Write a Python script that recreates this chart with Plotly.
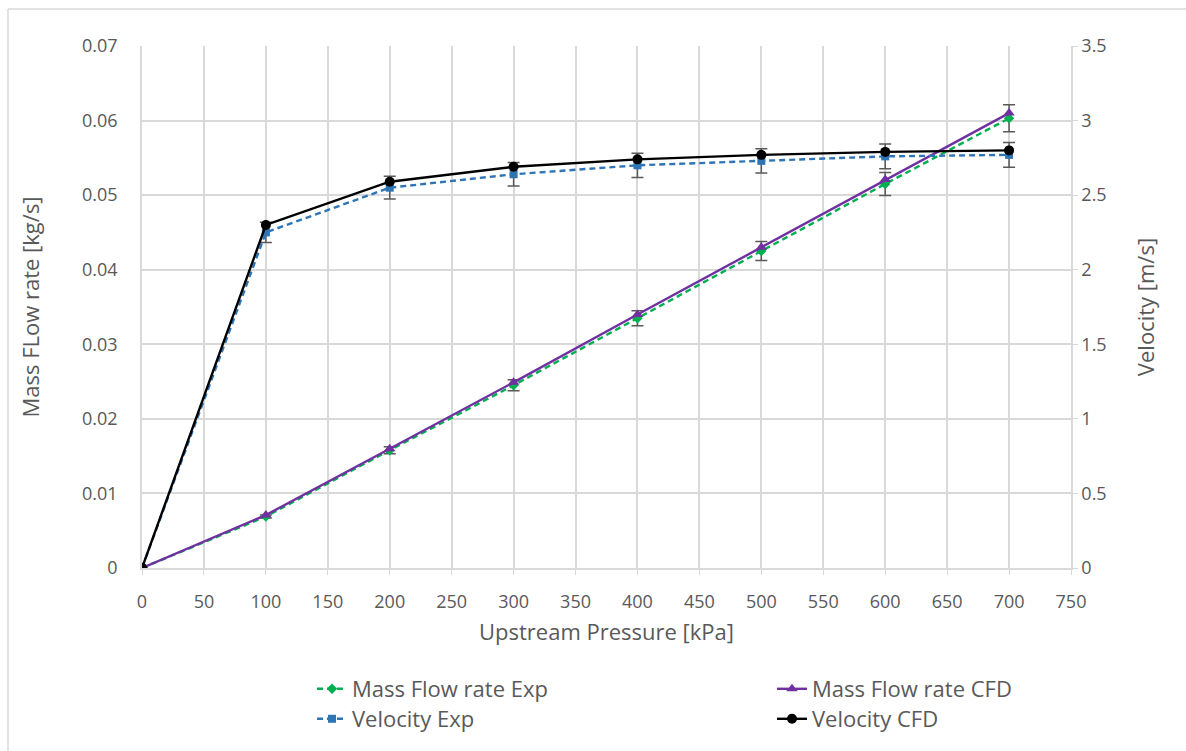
import plotly.graph_objects as go

pressure = [0, 100, 200, 300, 400, 500, 600, 700]
mass_exp = [0, 0.0069, 0.0158, 0.0245, 0.0335, 0.0425, 0.0515, 0.0603]
mass_cfd = [0, 0.0071, 0.0160, 0.0249, 0.0340, 0.0430, 0.0521, 0.0610]
vel_exp = [0, 2.25, 2.55, 2.64, 2.70, 2.73, 2.76, 2.77]
vel_cfd = [0, 2.30, 2.59, 2.69, 2.74, 2.77, 2.79, 2.80]
err_pct = 3

FONT = "Open Sans"
TXT = "#595959"
GRID = "#d9d9d9"

W, H = 1186, 751
ML, MR, MT, MB = 142, 115, 46, 183
PW, PH = W - ML - MR, H - MT - MB


def px_x(x):
    return (x - ML) / PW


def px_y(y):
    return (MT + PH - y) / PH


fig = go.Figure()
eb = dict(type="percent", value=err_pct, color="#595959", thickness=1.5, width=6)
DASH = "6px,4px"

fig.add_trace(go.Scatter(x=pressure, y=mass_exp, name="Mass Flow rate Exp", mode="lines+markers",
                         line=dict(color="#00B050", width=2.4, dash=DASH),
                         marker=dict(symbol="diamond", size=8, color="#00B050"),
                         error_y=eb, yaxis="y", legend="legend"))
fig.add_trace(go.Scatter(x=pressure, y=mass_cfd, name="Mass Flow rate CFD", mode="lines+markers",
                         line=dict(color="#7030A0", width=2.4),
                         marker=dict(symbol="triangle-up", size=10, color="#7030A0"),
                         yaxis="y", legend="legend2"))
fig.add_trace(go.Scatter(x=pressure, y=vel_exp, name="Velocity Exp", mode="lines+markers",
                         line=dict(color="#2E75B6", width=2.4, dash=DASH),
                         marker=dict(symbol="square", size=8, color="#2E75B6"),
                         error_y=eb, yaxis="y2", legend="legend3"))
fig.add_trace(go.Scatter(x=pressure, y=vel_cfd, name="Velocity CFD", mode="lines+markers",
                         line=dict(color="#000000", width=2.4),
                         marker=dict(symbol="circle", size=10, color="#000000"),
                         yaxis="y2", legend="legend4"))

LEG_FONT = dict(size=22, color=TXT, family=FONT)


def leg(xpx, ypx):
    return dict(x=px_x(xpx), xanchor="left", y=px_y(ypx), yanchor="middle",
                font=LEG_FONT, bgcolor="rgba(0,0,0,0)", borderwidth=0)


fig.update_layout(
    width=W, height=H,
    margin=dict(l=ML, r=MR, t=MT, b=MB, autoexpand=False),
    paper_bgcolor="white", plot_bgcolor="white",
    font=dict(family=FONT, color=TXT, size=18),
    xaxis=dict(range=[0, 750], tickmode="linear", tick0=0, dtick=50,
               showgrid=True, gridcolor=GRID, gridwidth=1.5,
               showline=True, linecolor=GRID, linewidth=1.5,
               ticks="outside", ticklen=5, tickcolor=GRID, ticklabelstandoff=12,
               zeroline=False, tickfont=dict(size=18, color=TXT),
               title=dict(text="Upstream Pressure [kPa]", font=dict(size=22, color=TXT), standoff=12)),
    yaxis=dict(range=[0, 0.07], tickmode="linear", tick0=0, dtick=0.01,
               showgrid=True, gridcolor=GRID, gridwidth=1.5,
               showline=True, linecolor=GRID, linewidth=1.5, zeroline=False,
               tickfont=dict(size=18, color=TXT), ticklabelstandoff=19,
               title=dict(text="Mass FLow rate [kg/s]", font=dict(size=22, color=TXT), standoff=36)),
    yaxis2=dict(range=[0, 3.5], tickmode="linear", tick0=0, dtick=0.5,
                overlaying="y", side="right", showgrid=False,
                showline=True, linecolor=GRID, linewidth=1.5, zeroline=False,
                ticks="outside", ticklen=5, tickcolor=GRID,
                tickfont=dict(size=18, color=TXT),
                title=dict(text="Velocity [m/s]", font=dict(size=22, color=TXT), standoff=33)),
    showlegend=True,
    legend=leg(312, 689),
    legend2=leg(772, 689),
    legend3=leg(312, 719),
    legend4=leg(772, 719),
    shapes=[
        dict(type="line", xref="paper", yref="paper", x0=px_x(8), x1=px_x(1190),
             y0=px_y(9), y1=px_y(9), line=dict(color=GRID, width=1.5), layer="below"),
        dict(type="line", xref="paper", yref="paper", x0=px_x(8), x1=px_x(8),
             y0=px_y(9), y1=px_y(760), line=dict(color=GRID, width=1.5), layer="below"),
    ],
)

fig.write_html("out.html")
